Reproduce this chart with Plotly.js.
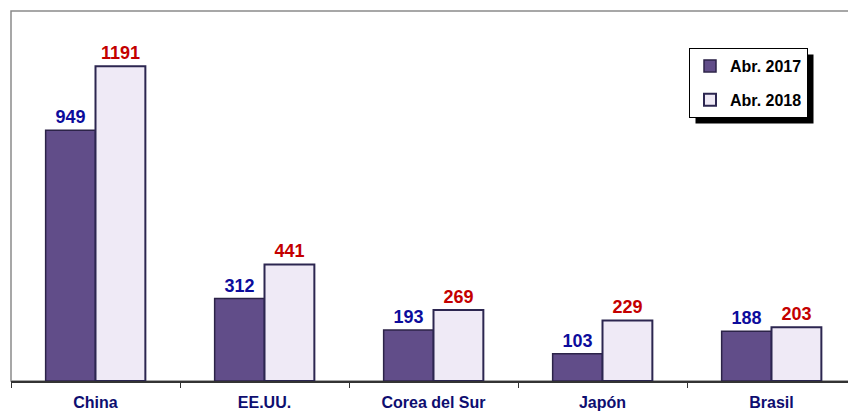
<!DOCTYPE html>
<html>
<head>
<meta charset="utf-8">
<script src="https://cdn.plot.ly/plotly-3.0.1.min.js"></script>
<style>html,body{margin:0;padding:0;background:#fff;}#chart{width:848px;height:412px;}</style>
</head>
<body>
<div id="chart"></div>
<script>
const categories = ["China", "EE.UU.", "Corea del Sur", "Japón", "Brasil"];
const seriesNames = ["Abr. 2017", "Abr. 2018"];
const values2017 = [949, 312, 193, 103, 188];
const values2018 = [1191, 441, 269, 229, 203];

const W = 848, H = 412;
const margin = {l: 11, r: 0, t: 11, b: 31};
const plotW = W - margin.l - margin.r;
const plotH = H - margin.t - margin.b;
const catPx = 169;
const px2x = p => (p - margin.l) / plotW;
const px2y = p => 1 - (p - margin.t) / plotH;

const labelFont = {family: "Liberation Sans, Arial, sans-serif", size: 18};

const traces = [
  {
    type: "bar", name: seriesNames[0], x: categories, y: values2017,
    legendgroup: "a",
    marker: {color: "#614d89", line: {color: "#2c2348", width: 1.5}},
    text: values2017.map(String), textposition: "outside", cliponaxis: false,
    textfont: Object.assign({color: "#0c0c9c", weight: "bold"}, labelFont),
    hoverinfo: "none"
  },
  {
    type: "bar", name: seriesNames[1], x: categories, y: values2018,
    legendgroup: "b",
    marker: {color: "#efeaf6", line: {color: "#2c2650", width: 2}},
    text: values2018.map(String), textposition: "outside", cliponaxis: false,
    textfont: Object.assign({color: "#c40000", weight: "bold"}, labelFont),
    hoverinfo: "none"
  }
];

const layout = {
  width: W, height: H, margin: margin,
  paper_bgcolor: "#ffffff", plot_bgcolor: "#ffffff",
  barmode: "group", bargap: 0.41, bargroupgap: 0,
  showlegend: true,
  font: {family: "Liberation Sans, Arial, sans-serif"},
  xaxis: {
    type: "category",
    range: [-0.5, -0.5 + plotW / catPx],
    showline: true, linecolor: "#333333", linewidth: 1.5,
    ticks: "outside", tickson: "boundaries", ticklen: 5, tickwidth: 1, tickcolor: "#333333",
    ticklabelstandoff: 6,
    tickfont: {family: "Liberation Sans, Arial, sans-serif", size: 16, color: "#0e0e70", weight: "bold"},
    showgrid: false, zeroline: false, fixedrange: true
  },
  yaxis: {
    range: [0, 1400],
    showline: false, showticklabels: false, ticks: "", showgrid: false, zeroline: false, fixedrange: true
  },
  legend: {
    x: px2x(689), y: px2y(48), xanchor: "left", yanchor: "top",
    bgcolor: "#ffffff", bordercolor: "#000000", borderwidth: 1,
    font: {family: "Liberation Sans, Arial, sans-serif", size: 16, color: "#000000", weight: "bold"},
    tracegroupgap: 10, itemwidth: 30, traceorder: "grouped"
  },
  shapes: [
    {type: "rect", xref: "paper", yref: "paper", x0: 0, x1: 1.05, y0: 0, y1: 1,
     line: {color: "#8a8a8a", width: 1.5}, fillcolor: "rgba(0,0,0,0)", layer: "below"}
  ]
};

Plotly.newPlot("chart", traces, layout, {displayModeBar: false, staticPlot: true}).then(gd => {
  const bg = gd.querySelector(".legend .bg");
  if (!bg) return;
  const cb = gd.getBoundingClientRect();
  const r = bg.getBoundingClientRect();
  const x0 = r.left - cb.left + 6, x1 = r.right - cb.left + 6;
  const y0 = r.top - cb.top + 6, y1 = r.bottom - cb.top + 6;
  const shapes = layout.shapes.concat([{
    type: "rect", xref: "paper", yref: "paper",
    x0: px2x(x0), x1: px2x(x1), y0: px2y(y1), y1: px2y(y0),
    line: {width: 0}, fillcolor: "#000000", layer: "above"
  }]);
  return Plotly.relayout(gd, {shapes: shapes});
});
</script>
</body>
</html>
